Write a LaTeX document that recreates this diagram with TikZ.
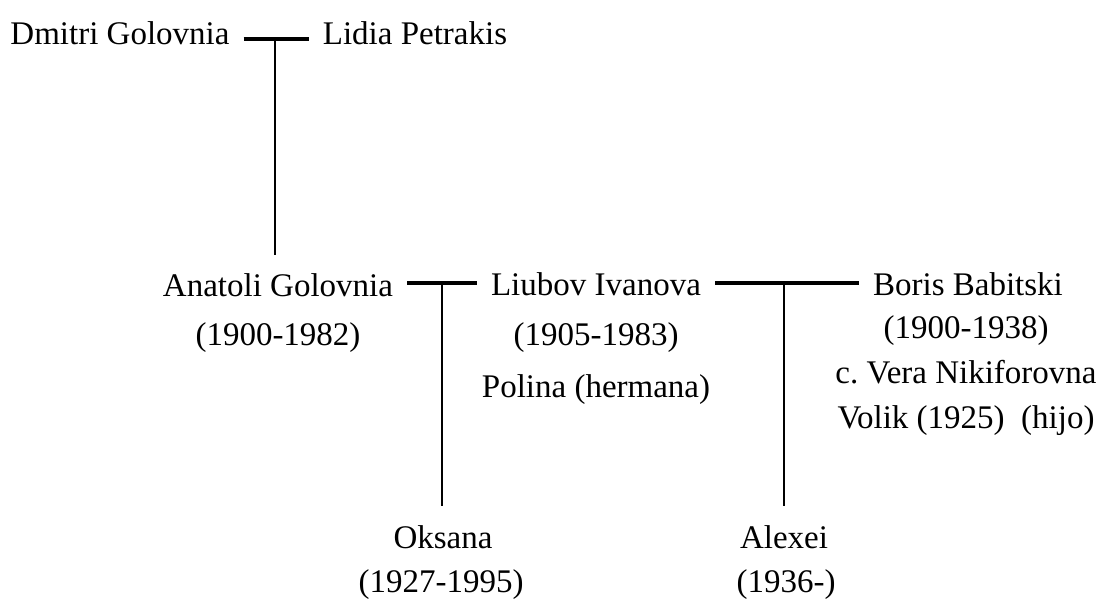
\documentclass[tikz,border=0pt]{standalone}
\usepackage{fontspec}
\setmainfont{Liberation Serif}
\usetikzlibrary{positioning}

\begin{document}
\begin{tikzpicture}[x=1pt,y=1pt]
                \tikzstyle{every node}+=[inner sep=0pt]
                \tikzstyle{person}=[font=\fontsize{33}{50}\selectfont, anchor=base, inner xsep=14pt, inner ysep=19pt]
                \tikzstyle{info}=[font=\fontsize{33}{51}\selectfont, anchor=base, align=center]
                \tikzstyle{couple}=[black, line width=3.5pt]
                \tikzstyle{child}=[black, line width=2.5pt]
                \useasboundingbox (0,0) rectangle (1107,-601);
                \node [person] (dmitri) at (120,-45) {Dmitri Golovnia};
                \node [person] (lidia) at (415,-45) {Lidia Petrakis};
                \node [person] (anatoli) at (278,-297) {Anatoli Golovnia};
                \node [info] (anatoli-d) at (278,-345) {(1900-1982)};
                \node [person] (liubov) at (596,-296) {Liubov Ivanova};
                \node [info, font=\fontsize{33}{52}\selectfont] (liubov-d) at (596,-397) {(1905-1983)\\Polina (hermana)};
                \node [person] (boris) at (968,-295) {Boris Babitski};
                \node [info, font=\fontsize{33}{45}\selectfont] (boris-d) at (966,-428) {(1900-1938)\\c.\ Vera Nikiforovna\\Volik (1925)~ (hijo)};
                \node [person] (oksana) at (443,-548) {Oksana};
                \node [info] (oksana-d) at (441,-592) {(1927-1995)};
                \node [person] (alexei) at (784,-548) {Alexei};
                \node [info] (alexei-d) at (786,-592) {(1936-)};
                \coordinate (u1) at (275,-39);
                \coordinate (u2) at (442,-283);
                \coordinate (u3) at (784,-283);
                \draw [couple] (dmitri.east |- u1) -- (lidia.west |- u1);
                \draw [child] (u1) -- (u1 |- anatoli.north);
                \draw [couple] (anatoli.east |- u2) -- (liubov.west |- u2);
                \draw [child] (u2) -- (u2 |- oksana.north);
                \draw [couple] (liubov.east |- u3) -- (boris.west |- u3);
                \draw [child] (u3) -- (u3 |- alexei.north);
\end{tikzpicture}
\end{document}
